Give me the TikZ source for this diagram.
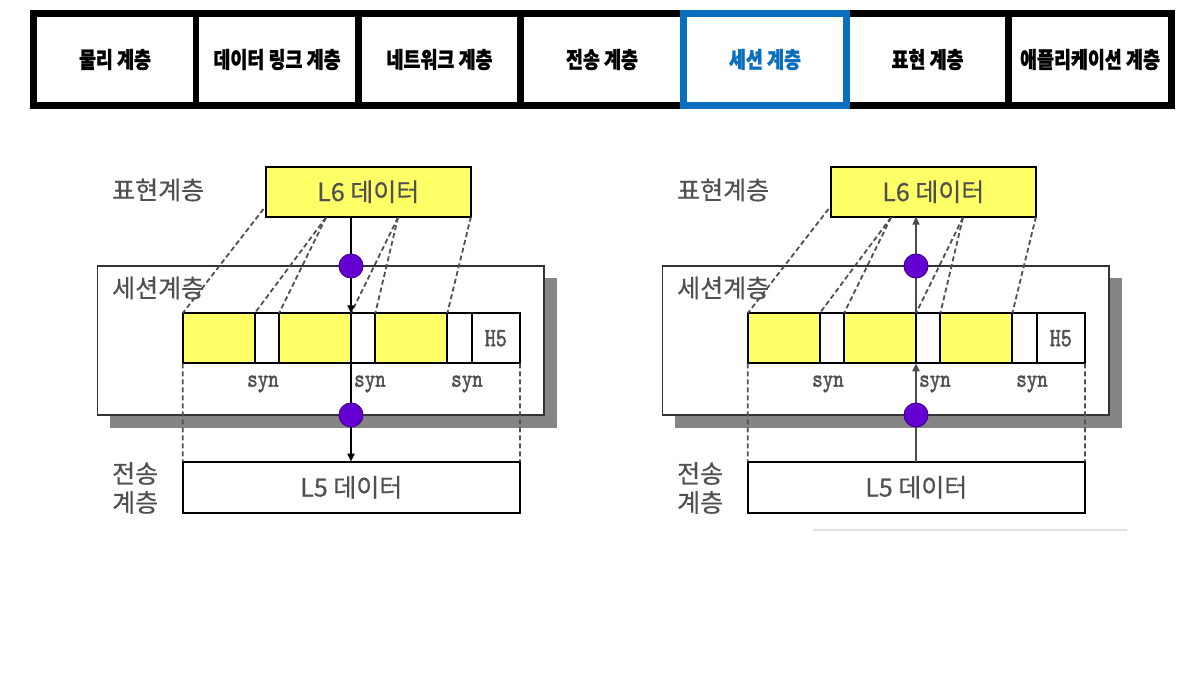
\documentclass[tikz,border=0pt]{standalone}
\usepackage{fontspec}
\newfontfamily\kr{Noto Sans CJK KR}[FakeBold=0.5]
\newfontfamily\krtab{Noto Sans CJK KR}[BoldFeatures={FakeBold=1.2}]
\newfontfamily\monob{lmmono10-regular}[Extension=.otf,FakeBold=2]
\usetikzlibrary{arrows.meta}
\definecolor{tabblue}{RGB}{10,110,190}
\definecolor{ylw}{RGB}{255,255,102}
\definecolor{purp}{RGB}{100,0,210}
\definecolor{txtgray}{RGB}{80,80,80}
\newcommand{\tabtext}[1]{\scalebox{0.97}[1.18]{#1}}
\newcommand{\monotext}[1]{\scalebox{1}[1.25]{\monob #1}}
\tikzset{
  cell/.style={fill=white,inner sep=0pt,minimum height=85pt,font=\krtab\bfseries\fontsize{19}{20}\selectfont},
  seltab/.style={draw=tabblue,line width=7pt,fill=white,inner sep=0pt,minimum width=163pt,minimum height=92pt,text=tabblue,font=\krtab\bfseries\fontsize{19}{20}\selectfont},
  layerlab/.style={anchor=west,inner sep=0pt,text=txtgray,font=\kr\fontsize{25}{29}\selectfont,align=left},
  databox/.style={draw=black,line width=2pt,inner sep=0pt,outer sep=0pt,text=txtgray,font=\kr\fontsize{25}{26}\selectfont},
  sessbox/.style={draw=black!80,line width=1.6pt,fill=white,inner sep=0pt,outer sep=0pt,minimum width=446.7pt,minimum height=149pt},
  seg/.style={draw=black,line width=2pt,inner sep=0pt,outer sep=0pt,minimum height=50pt},
  ydata/.style={seg,fill=ylw,minimum width=72pt},
  syncell/.style={seg,fill=white,minimum width=24.3pt},
  hcell/.style={seg,fill=white,minimum width=48.4pt,text=txtgray,font=\fontsize{21}{22}\selectfont},
  synlab/.style={inner sep=0pt,text=txtgray,font=\fontsize{20}{20}\selectfont},
  dashline/.style={draw=txtgray,line width=1.8pt,dash pattern=on 5pt off 3pt},
  flowline/.style={line width=2pt,-{Triangle[length=8pt,width=7pt]}},
  dot/.style={circle,fill=purp,draw=purp!70!black,line width=1pt,minimum size=24pt,inner sep=0pt},
  shadowfill/.style={fill=black!48}
}
\begin{document}
\begin{tikzpicture}[x=1pt,y=-1pt]
\useasboundingbox[fill=white] (0,0) rectangle (1196,672);
% ---------- tab bar ----------
\fill[black] (30,10) rectangle (1175,109);
\node[cell,minimum width=156pt] (t1) at (115,59.5) {\tabtext{물리 계층}};
\node[cell,minimum width=156pt] (t2) at (277,59.5) {\tabtext{데이터 링크 계층}};
\node[cell,minimum width=155pt] (t3) at (439.5,59.5) {\tabtext{네트워크 계층}};
\node[cell,minimum width=156pt] (t4) at (602,59.5) {\tabtext{전송 계층}};
\node[cell,minimum width=155pt] (t6) at (927.5,59.5) {\tabtext{표현 계층}};
\node[cell,minimum width=156pt] (t7) at (1090,59.5) {\tabtext{애플리케이션 계층}};
\node[seltab] (t5) at (765,59.5) {\tabtext{세션 계층}};
% ---------- left diagram ----------
\begin{scope}
\fill[shadowfill] (110,278) rectangle (556.7,427.5);
\node[sessbox] (Lsess) at (320.7,340.5) {};
\node[layerlab] (Llab6) at (112,190) {표현계층};
\node[layerlab] (LlabS) at (112,288) {세션계층};
\node[layerlab] (LlabT) at (112,488) {전송\\계층};
\node[databox,fill=ylw,minimum width=205.3pt,minimum height=50pt] (Ll6) at (368.3,191.7) {L6 데이터};
\node[ydata,anchor=west] (La1) at (182.7,338.3) {};
\node[syncell,anchor=west] (Ls1) at (La1.east) {};
\node[ydata,anchor=west] (La2) at (Ls1.east) {};
\node[syncell,anchor=west] (Ls2) at (La2.east) {};
\node[ydata,anchor=west] (La3) at (Ls2.east) {};
\node[syncell,anchor=west] (Ls3) at (La3.east) {};
\node[hcell,anchor=west] (Lh5) at (Ls3.east) {\monotext{H5}};
\node[synlab] (Lsyn1) at (263,384) {\monotext{syn}};
\node[synlab] (Lsyn2) at (370,384) {\monotext{syn}};
\node[synlab] (Lsyn3) at (467,384) {\monotext{syn}};
\node[databox,fill=white,minimum width=337.3pt,minimum height=51pt] (Ll5) at (351.3,487.2) {L5 데이터};
\coordinate (Lp1) at (263.5,209);
\coordinate (Lp2) at (326,217.5);
\coordinate (Lp3) at (398,217.5);
\draw[dashline] (Lp1) -- (La1.north west);
\draw[dashline] (Lp2) -- (La1.north east);
\draw[dashline] (Lp2) -- (La2.north west);
\draw[dashline] (Lp3) -- (La2.north east);
\draw[dashline] (Lp3) -- (La3.north west);
\draw[dashline] (Ll6.south east) -- (La3.north east);
\draw[dashline] (La1.south west) -- (Ll5.north west);
\draw[dashline] (Lh5.south east) -- (Ll5.north east);
\draw[flowline,draw=black] (La2.north east |- Ll6.south) -- (La2.north east);
\draw[flowline,draw=black] (La2.south east) -- (La2.south east |- Ll5.north);
\node[dot] (Lc1) at (La2.north east |- Lsess.north) {};
\node[dot] (Lc2) at (La2.north east |- Lsess.south) {};
\end{scope}
% ---------- right diagram ----------
\begin{scope}[xshift=565pt]
\fill[shadowfill] (110,278) rectangle (556.7,427.5);
\node[sessbox] (Rsess) at (320.7,340.5) {};
\node[layerlab] (Rlab6) at (112,190) {표현계층};
\node[layerlab] (RlabS) at (112,288) {세션계층};
\node[layerlab] (RlabT) at (112,488) {전송\\계층};
\node[databox,fill=ylw,minimum width=205.3pt,minimum height=50pt] (Rl6) at (368.3,191.7) {L6 데이터};
\node[ydata,anchor=west] (Ra1) at (182.7,338.3) {};
\node[syncell,anchor=west] (Rs1) at (Ra1.east) {};
\node[ydata,anchor=west] (Ra2) at (Rs1.east) {};
\node[syncell,anchor=west] (Rs2) at (Ra2.east) {};
\node[ydata,anchor=west] (Ra3) at (Rs2.east) {};
\node[syncell,anchor=west] (Rs3) at (Ra3.east) {};
\node[hcell,anchor=west] (Rh5) at (Rs3.east) {\monotext{H5}};
\node[synlab] (Rsyn1) at (263,384) {\monotext{syn}};
\node[synlab] (Rsyn2) at (370,384) {\monotext{syn}};
\node[synlab] (Rsyn3) at (467,384) {\monotext{syn}};
\node[databox,fill=white,minimum width=337.3pt,minimum height=51pt] (Rl5) at (351.3,487.2) {L5 데이터};
\coordinate (Rp1) at (263.5,209);
\coordinate (Rp2) at (326,217.5);
\coordinate (Rp3) at (398,217.5);
\draw[dashline] (Rp1) -- (Ra1.north west);
\draw[dashline] (Rp2) -- (Ra1.north east);
\draw[dashline] (Rp2) -- (Ra2.north west);
\draw[dashline] (Rp3) -- (Ra2.north east);
\draw[dashline] (Rp3) -- (Ra3.north west);
\draw[dashline] (Rl6.south east) -- (Ra3.north east);
\draw[dashline] (Ra1.south west) -- (Rl5.north west);
\draw[dashline] (Rh5.south east) -- (Rl5.north east);
\draw[flowline,draw=black!70] (Ra2.north east) -- (Ra2.north east |- Rl6.south);
\draw[flowline,draw=black!70] (Ra2.south east |- Rl5.north) -- (Ra2.south east);
\node[dot] (Rc1) at (Ra2.north east |- Rsess.north) {};
\node[dot] (Rc2) at (Ra2.north east |- Rsess.south) {};
\end{scope}
\draw[black!12,line width=1.5pt] (813,530) -- (1127,530);
\end{tikzpicture}
\end{document}
